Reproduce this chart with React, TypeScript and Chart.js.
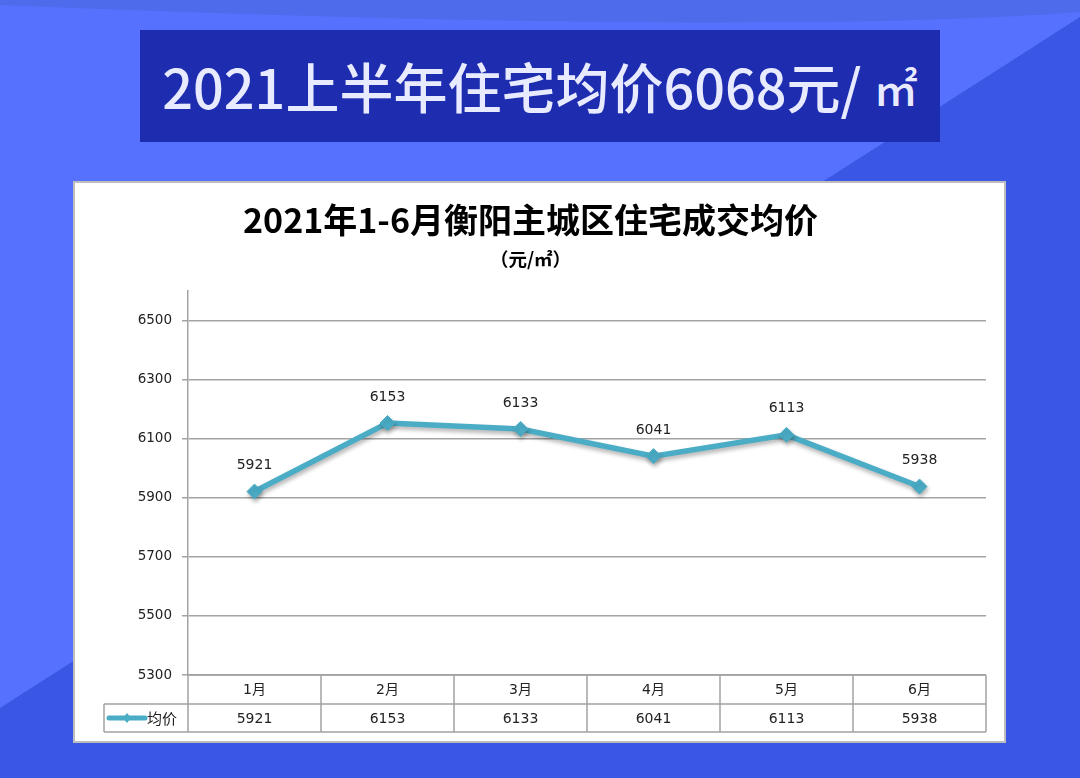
import React, { useEffect, useRef } from "react";
import { Chart, registerables } from "chart.js";

Chart.register(...registerables);

const months = ["1月", "2月", "3月", "4月", "5月", "6月"];
const avgPrice = [5921, 6153, 6133, 6041, 6113, 5938];
const yTicks = [5300, 5500, 5700, 5900, 6100, 6300, 6500];
const yMin = 5300;
const yMax = 6600;
const seriesName = "均价";
const bannerMain = "2021上半年住宅均价6068元/ ";
const bannerUnit = "㎡";
const chartTitle = "2021年1-6月衡阳主城区住宅成交均价";
const chartSubtitle = "（元/㎡）";

const LINE_COLOR = "#4bacc6";
const GRID_COLOR = "#a3a3a3";
const TEXT_FONT = "'DejaVu Sans', 'Noto Sans CJK SC', sans-serif";

const shadowPlugin = {
  id: "lineShadow",
  beforeDatasetDraw(chart: any) {
    const ctx = chart.ctx;
    ctx.save();
    ctx.shadowColor = "rgba(0,0,0,0.3)";
    ctx.shadowBlur = 4;
    ctx.shadowOffsetX = 1;
    ctx.shadowOffsetY = 3;
  },
  afterDatasetDraw(chart: any) {
    chart.ctx.restore();
  },
};

const labelPlugin = {
  id: "pointLabels",
  afterDatasetsDraw(chart: any) {
    const ctx = chart.ctx;
    const meta = chart.getDatasetMeta(0);
    const values = chart.data.datasets[0].data;
    ctx.save();
    ctx.font = `14px ${TEXT_FONT}`;
    ctx.fillStyle = "#222";
    ctx.textAlign = "center";
    ctx.textBaseline = "middle";
    meta.data.forEach((pt: any, i: number) => {
      ctx.fillText(String(values[i]), pt.x, pt.y - 26);
    });
    ctx.restore();
  },
};

const tablePlugin = {
  id: "dataTable",
  afterDraw(chart: any) {
    const ctx = chart.ctx;
    const area = chart.chartArea;
    const labels: string[] = chart.data.labels;
    const values = chart.data.datasets[0].data;
    const n = labels.length;
    const colW = (area.right - area.left) / n;
    const top = area.bottom;
    const r1 = top + 29;
    const r2 = r1 + 28;
    const legendLeft = 29;

    ctx.save();
    ctx.strokeStyle = GRID_COLOR;
    ctx.lineWidth = 1.5;
    ctx.beginPath();
    ctx.moveTo(area.left, top);
    ctx.lineTo(area.right, top);
    ctx.moveTo(legendLeft, r1);
    ctx.lineTo(area.right, r1);
    ctx.moveTo(legendLeft, r2);
    ctx.lineTo(area.right, r2);
    for (let i = 0; i <= n; i++) {
      const x = area.left + i * colW;
      ctx.moveTo(x, top);
      ctx.lineTo(x, r2);
    }
    ctx.moveTo(legendLeft, r1);
    ctx.lineTo(legendLeft, r2);
    ctx.stroke();

    ctx.fillStyle = "#222";
    ctx.textAlign = "center";
    ctx.textBaseline = "middle";
    ctx.font = `14px ${TEXT_FONT}`;
    for (let i = 0; i < n; i++) {
      const cx = area.left + (i + 0.5) * colW;
      ctx.fillText(labels[i], cx, (top + r1) / 2 + 1);
      ctx.fillText(String(values[i]), cx, (r1 + r2) / 2 + 1);
    }

    // legend key
    const ly = (r1 + r2) / 2;
    ctx.strokeStyle = LINE_COLOR;
    ctx.lineWidth = 5;
    ctx.lineCap = "round";
    ctx.beginPath();
    ctx.moveTo(legendLeft + 5, ly);
    ctx.lineTo(legendLeft + 41, ly);
    ctx.stroke();
    ctx.fillStyle = LINE_COLOR;
    const dx = legendLeft + 23;
    ctx.beginPath();
    ctx.moveTo(dx, ly - 5);
    ctx.lineTo(dx + 4, ly);
    ctx.lineTo(dx, ly + 5);
    ctx.lineTo(dx - 4, ly);
    ctx.closePath();
    ctx.fill();
    ctx.fillStyle = "#222";
    ctx.textAlign = "left";
    ctx.font = `15px 'Noto Sans CJK SC', sans-serif`;
    ctx.fillText(seriesName, legendLeft + 43, ly);
    ctx.restore();
  },
};

function PriceChart() {
  const ref = useRef<HTMLCanvasElement | null>(null);
  useEffect(() => {
    if (!ref.current) return;
    const chart = new Chart(ref.current, {
      type: "line",
      data: {
        labels: months,
        datasets: [
          {
            label: seriesName,
            data: avgPrice,
            borderColor: LINE_COLOR,
            backgroundColor: LINE_COLOR,
            borderWidth: 5.5,
            pointStyle: "rectRot",
            pointRadius: 7.5,
            pointBackgroundColor: LINE_COLOR,
            pointBorderColor: LINE_COLOR,
            pointBorderWidth: 1,
            tension: 0,
            fill: false,
          },
        ],
      },
      options: {
        responsive: false,
        animation: false,
        events: [],
        layout: { padding: { left: 0, right: 18, top: 0, bottom: 9 } },
        plugins: {
          legend: { display: false },
          tooltip: { enabled: false },
          title: {
            display: true,
            text: chartTitle,
            color: "#000",
            font: { family: "'Noto Sans CJK SC', sans-serif", size: 34, weight: "bold" },
            padding: { top: 17, bottom: 3 },
          },
          subtitle: {
            display: true,
            text: chartSubtitle,
            color: "#000",
            font: { family: "'Noto Sans CJK SC', sans-serif", size: 18.5, weight: "bold" },
            padding: { top: 4, bottom: 21 },
          },
        },
        scales: {
          x: {
            type: "category",
            offset: true,
            grid: { display: false },
            border: { display: false },
            ticks: { display: false },
            afterFit(scale: any) {
              scale.height = 57;
            },
          },
          y: {
            min: yMin,
            max: yMax,
            afterBuildTicks(scale: any) {
              scale.ticks = yTicks.map((v) => ({ value: v }));
            },
            afterFit(scale: any) {
              scale.width = 113;
            },
            grid: {
              color: GRID_COLOR,
              lineWidth: 1.5,
              tickLength: 6,
              tickColor: GRID_COLOR,
              drawTicks: true,
            },
            border: { display: true, color: GRID_COLOR, width: 1.5 },
            ticks: {
              padding: 10,
              color: "#222",
              font: { family: TEXT_FONT, size: 13.5 },
              callback: (v: any) => String(v),
            },
          },
        },
      },
      plugins: [shadowPlugin, labelPlugin, tablePlugin],
    } as any);
    return () => chart.destroy();
  }, []);
  return <canvas ref={ref} width={929} height={558} style={{ width: 929, height: 558, display: "block" }} />;
}

export default function App() {
  return (
    <div
      style={{
        position: "absolute",
        left: 0,
        top: 0,
        width: 1080,
        height: 778,
        overflow: "hidden",
        fontFamily: "'Noto Sans CJK SC', sans-serif",
      }}
    >
      <svg width={1080} height={778} style={{ position: "absolute", left: 0, top: 0 }}>
        <rect x={0} y={0} width={1080} height={778} fill="#5571fe" />
        <path d="M0,0 L1080,0 L1080,12 Q760,36 0,5 Z" fill="#4d6bea" />
        <polygon points="1080,17 1080,778 0,778 0,708" fill="#3a56e4" />
      </svg>
      <div
        style={{
          position: "absolute",
          left: 140,
          top: 30,
          width: 800,
          height: 112,
          background: "#1e2cb0",
          display: "flex",
          alignItems: "center",
          justifyContent: "center",
          color: "#e8ebff",
          fontSize: 54,
          fontWeight: 500,
          lineHeight: 1,
          whiteSpace: "pre",
        }}
      >
        <span>{bannerMain}</span>
        <span style={{ fontSize: 44, marginTop: 2 }}>{bannerUnit}</span>
      </div>
      <div
        style={{
          position: "absolute",
          left: 73,
          top: 181,
          width: 933,
          height: 562,
          boxSizing: "border-box",
          border: "2px solid #bdbdbd",
          background: "#fff",
        }}
      >
        <PriceChart />
      </div>
    </div>
  );
}
